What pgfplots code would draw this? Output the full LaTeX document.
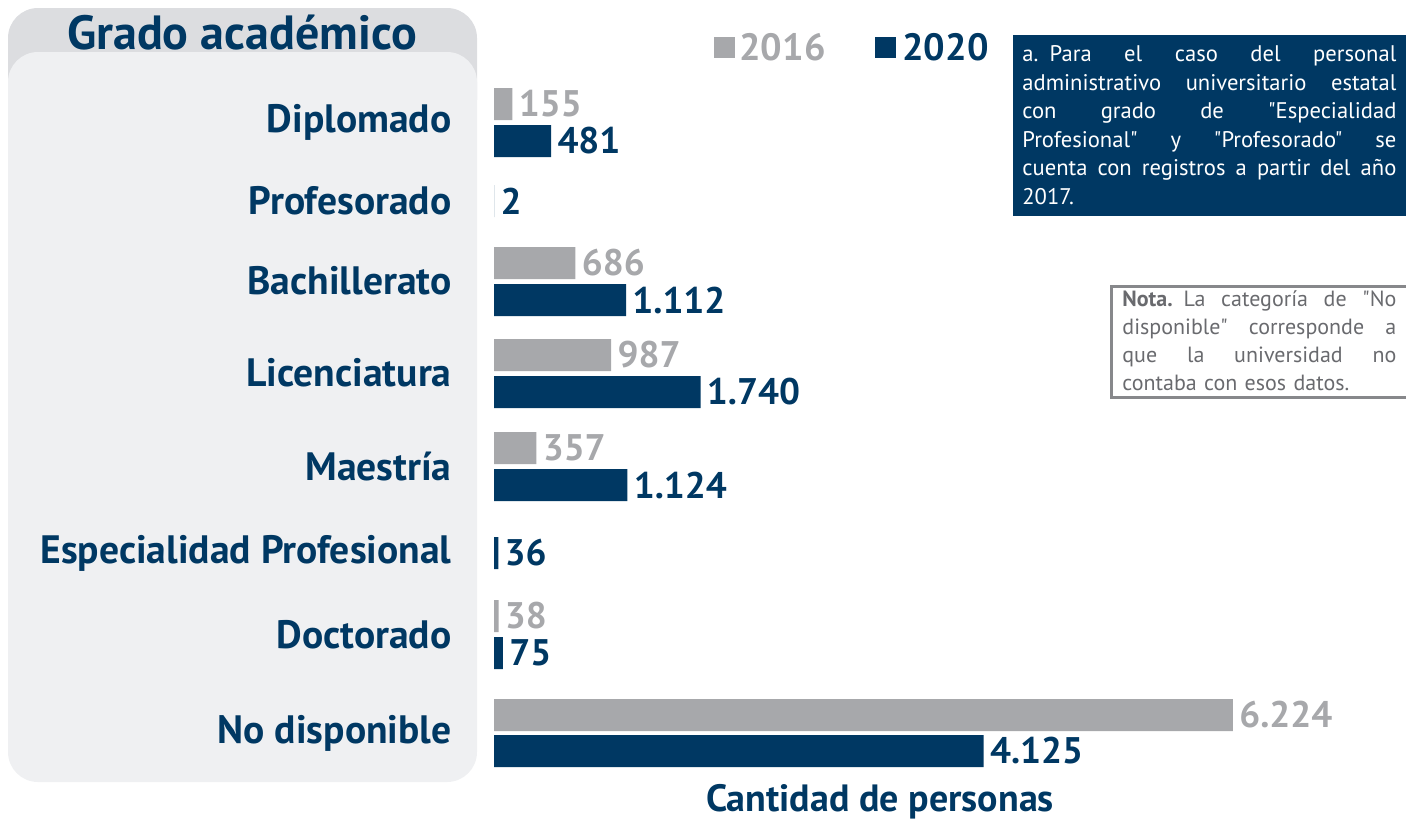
\documentclass[border=0pt]{standalone}
\usepackage{pgfplots}
\pgfplotsset{compat=1.18}
\usepackage{fontspec}
\setmainfont{PT Sans}
\newfontfamily\notefont{PT Sans}[Ligatures=TeXOff]
\definecolor{navy}{RGB}{0,56,99}
\definecolor{barGray}{RGB}{167,168,171}
\definecolor{panel}{RGB}{239,240,242}
\definecolor{panelhead}{RGB}{220,221,224}
\definecolor{notegray}{RGB}{105,106,110}
\newcommand\jl[1]{\leavevmode{\spaceskip=0.25em plus 1fil\hbox to 187pt{#1}}}
\newcommand\jn[1]{\leavevmode{\spaceskip=0.25em plus 1fil\hbox to 137pt{#1}}}

\begin{document}
\begin{tikzpicture}[x=0.5pt,y=-0.5pt]
\useasboundingbox (0,0) rectangle (1406,821);
% left panel
\fill[panelhead, rounded corners=15pt] (8,8) rectangle (477,130);
\fill[panel, rounded corners=15pt] (8,52) rectangle (477,782);
\node[font=\bfseries\fontsize{24}{24}\selectfont, text=navy] at (242,33) {Grado académico};

\begin{axis}[
    at={(247pt,0pt)}, anchor=north west,
    x=0.05935pt, y=0.5pt, y dir=reverse,
    xmin=0, xmax=7683, ymin=0, ymax=821,
    clip=false,
    axis line style={draw=none},
    tick style={draw=none},
    major tick length=0pt,
    xtick=\empty,
    ytick={122,201,281,373,466,553,635,733},
    yticklabels={Diplomado,Profesorado,Bachillerato,Licenciatura,Maestría,Especialidad Profesional,Doctorado,No disponible},
    yticklabel style={font=\bfseries\fontsize{19.8}{19.8}\selectfont, text=navy, inner sep=0pt, xshift=-21pt},
    xbar, bar shift=0pt, bar width=32,
    nodes near coords,
    /pgf/number format/.cd, 1000 sep={.}, fixed, assume math mode=true,
    /pgfplots/.cd,
    nodes near coords style={font=\bfseries\fontsize{18.5}{18.5}\selectfont, anchor=west, inner xsep=3pt},
]
% 2016
\addplot[fill=barGray, draw=none, nodes near coords style={text=barGray}] coordinates {
(155,104) (686,263) (987,355) (357,448) (38,616) (6224,715)};
% 2020
\addplot[fill=navy, draw=none, nodes near coords style={text=navy}] coordinates {
(481,141) (2,201) (1112,300) (1740,392) (1124,485) (36,553) (75,653) (4125,751)};
\end{axis}

% legend
\fill[barGray] (714,37) rectangle (735,58);
\node[anchor=west, inner sep=0pt, font=\bfseries\fontsize{19}{19}\selectfont, text=barGray] at (739,47) {2016};
\fill[navy] (875,37) rectangle (896,58);
\node[anchor=west, inner sep=0pt, font=\bfseries\fontsize{19}{19}\selectfont, text=navy] at (902,47) {2020};

% note a
\fill[navy] (1013,35) rectangle (1406,216);
\node[anchor=north west, inner sep=0pt, text=white, text width=187pt,
      font=\notefont\fontsize{11.3}{14.3}\selectfont] at (1022,45) {%
\jl{a. Para el caso del personal}\\
\jl{administrativo universitario estatal}\\
\jl{con grado de "Especialidad}\\
\jl{Profesional" y "Profesorado" se}\\
\jl{cuenta con registros a partir del año}\\
2017.};

% nota box
\draw[notegray!80, line width=1.5pt] (1111,286) rectangle (1410,397);
\node[anchor=north west, inner sep=0pt, text=notegray, text width=137pt,
      font=\notefont\fontsize{11}{14}\selectfont] at (1122,290) {%
\jn{\textbf{Nota.} La categoría de "No}\\
\jn{disponible" corresponde a}\\
\jn{que la universidad no}\\
contaba con esos datos.};

\node[font=\bfseries\fontsize{19}{19}\selectfont, text=navy] at (880,802) {Cantidad de personas};
\end{tikzpicture}
\end{document}
